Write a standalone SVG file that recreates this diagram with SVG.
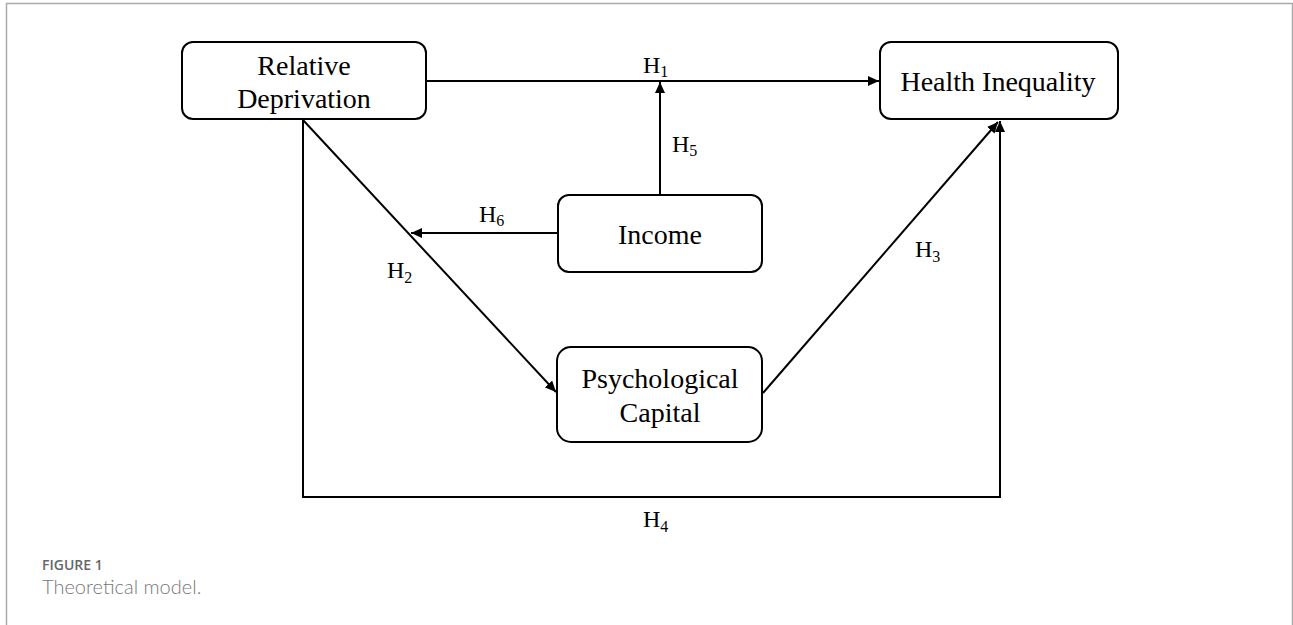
<svg xmlns="http://www.w3.org/2000/svg" width="1293" height="625" viewBox="0 0 1293 625">
<style>
.node rect{fill:#fff;stroke:#000;stroke-width:2}
.t{font-family:"Liberation Serif","Times New Roman",serif;font-size:28px;fill:#000;text-anchor:middle}
.h{font-family:"Liberation Serif","Times New Roman",serif;font-size:24px;fill:#000}
.h tspan{font-size:16px}
.c{fill:none;stroke:#000;stroke-width:2}
</style>
<defs>
<marker id="ah" markerUnits="userSpaceOnUse" markerWidth="12" markerHeight="10" refX="11" refY="5" orient="auto">
<path d="M0,0 L11,5 L0,10 z" fill="#000"/>
</marker>
</defs>
<rect x="0" y="0" width="1293" height="625" fill="#fff"/>
<path d="M6.5,625 V3.5 H1292.5 V625" fill="none" stroke="#aaa" stroke-width="1.5"/>
<g id="connectors">
<line class="c" x1="426" y1="81" x2="879" y2="81" marker-end="url(#ah)"/>
<line class="c" x1="660" y1="195" x2="660" y2="82" marker-end="url(#ah)"/>
<line class="c" x1="558" y1="233" x2="411" y2="233" marker-end="url(#ah)"/>
<line class="c" x1="303" y1="120" x2="556" y2="392" marker-end="url(#ah)"/>
<line class="c" x1="763" y1="393" x2="998" y2="122" marker-end="url(#ah)"/>
<polyline class="c" points="303,120 303,497 1000,497 1000,121" marker-end="url(#ah)"/>
</g>
<g id="labels">
<text class="h" x="643" y="73">H<tspan dy="4">1</tspan></text>
<text class="h" x="672" y="152">H<tspan dy="4">5</tspan></text>
<text class="h" x="479" y="222">H<tspan dy="4">6</tspan></text>
<text class="h" x="387" y="278">H<tspan dy="5">2</tspan></text>
<text class="h" x="915" y="257">H<tspan dy="5">3</tspan></text>
<text class="h" x="643" y="527">H<tspan dy="5">4</tspan></text>
</g>
<g id="node-rd" class="node">
<rect x="182" y="42" width="244" height="77" rx="11"/>
<text class="t" x="304" y="75">Relative</text>
<text class="t" x="304" y="108">Deprivation</text>
</g>
<g id="node-hi" class="node">
<rect x="880" y="42" width="238" height="77" rx="11"/>
<text class="t" x="998" y="91">Health Inequality</text>
</g>
<g id="node-income" class="node">
<rect x="558" y="195" width="204" height="77" rx="11"/>
<text class="t" x="660" y="244">Income</text>
</g>
<g id="node-pc" class="node">
<rect x="557" y="347" width="205" height="95" rx="14"/>
<text class="t" x="660" y="388">Psychological</text>
<text class="t" x="660" y="422">Capital</text>
</g>
<g id="caption">
<text x="42" y="570" font-family="'Open Sans',sans-serif" font-size="14" font-weight="600" fill="#666">FIGURE 1</text>
<text x="42" y="594" font-family="Lato,'Open Sans',sans-serif" font-size="20" font-weight="300" fill="#777">Theoretical model.</text>
</g>
</svg>
